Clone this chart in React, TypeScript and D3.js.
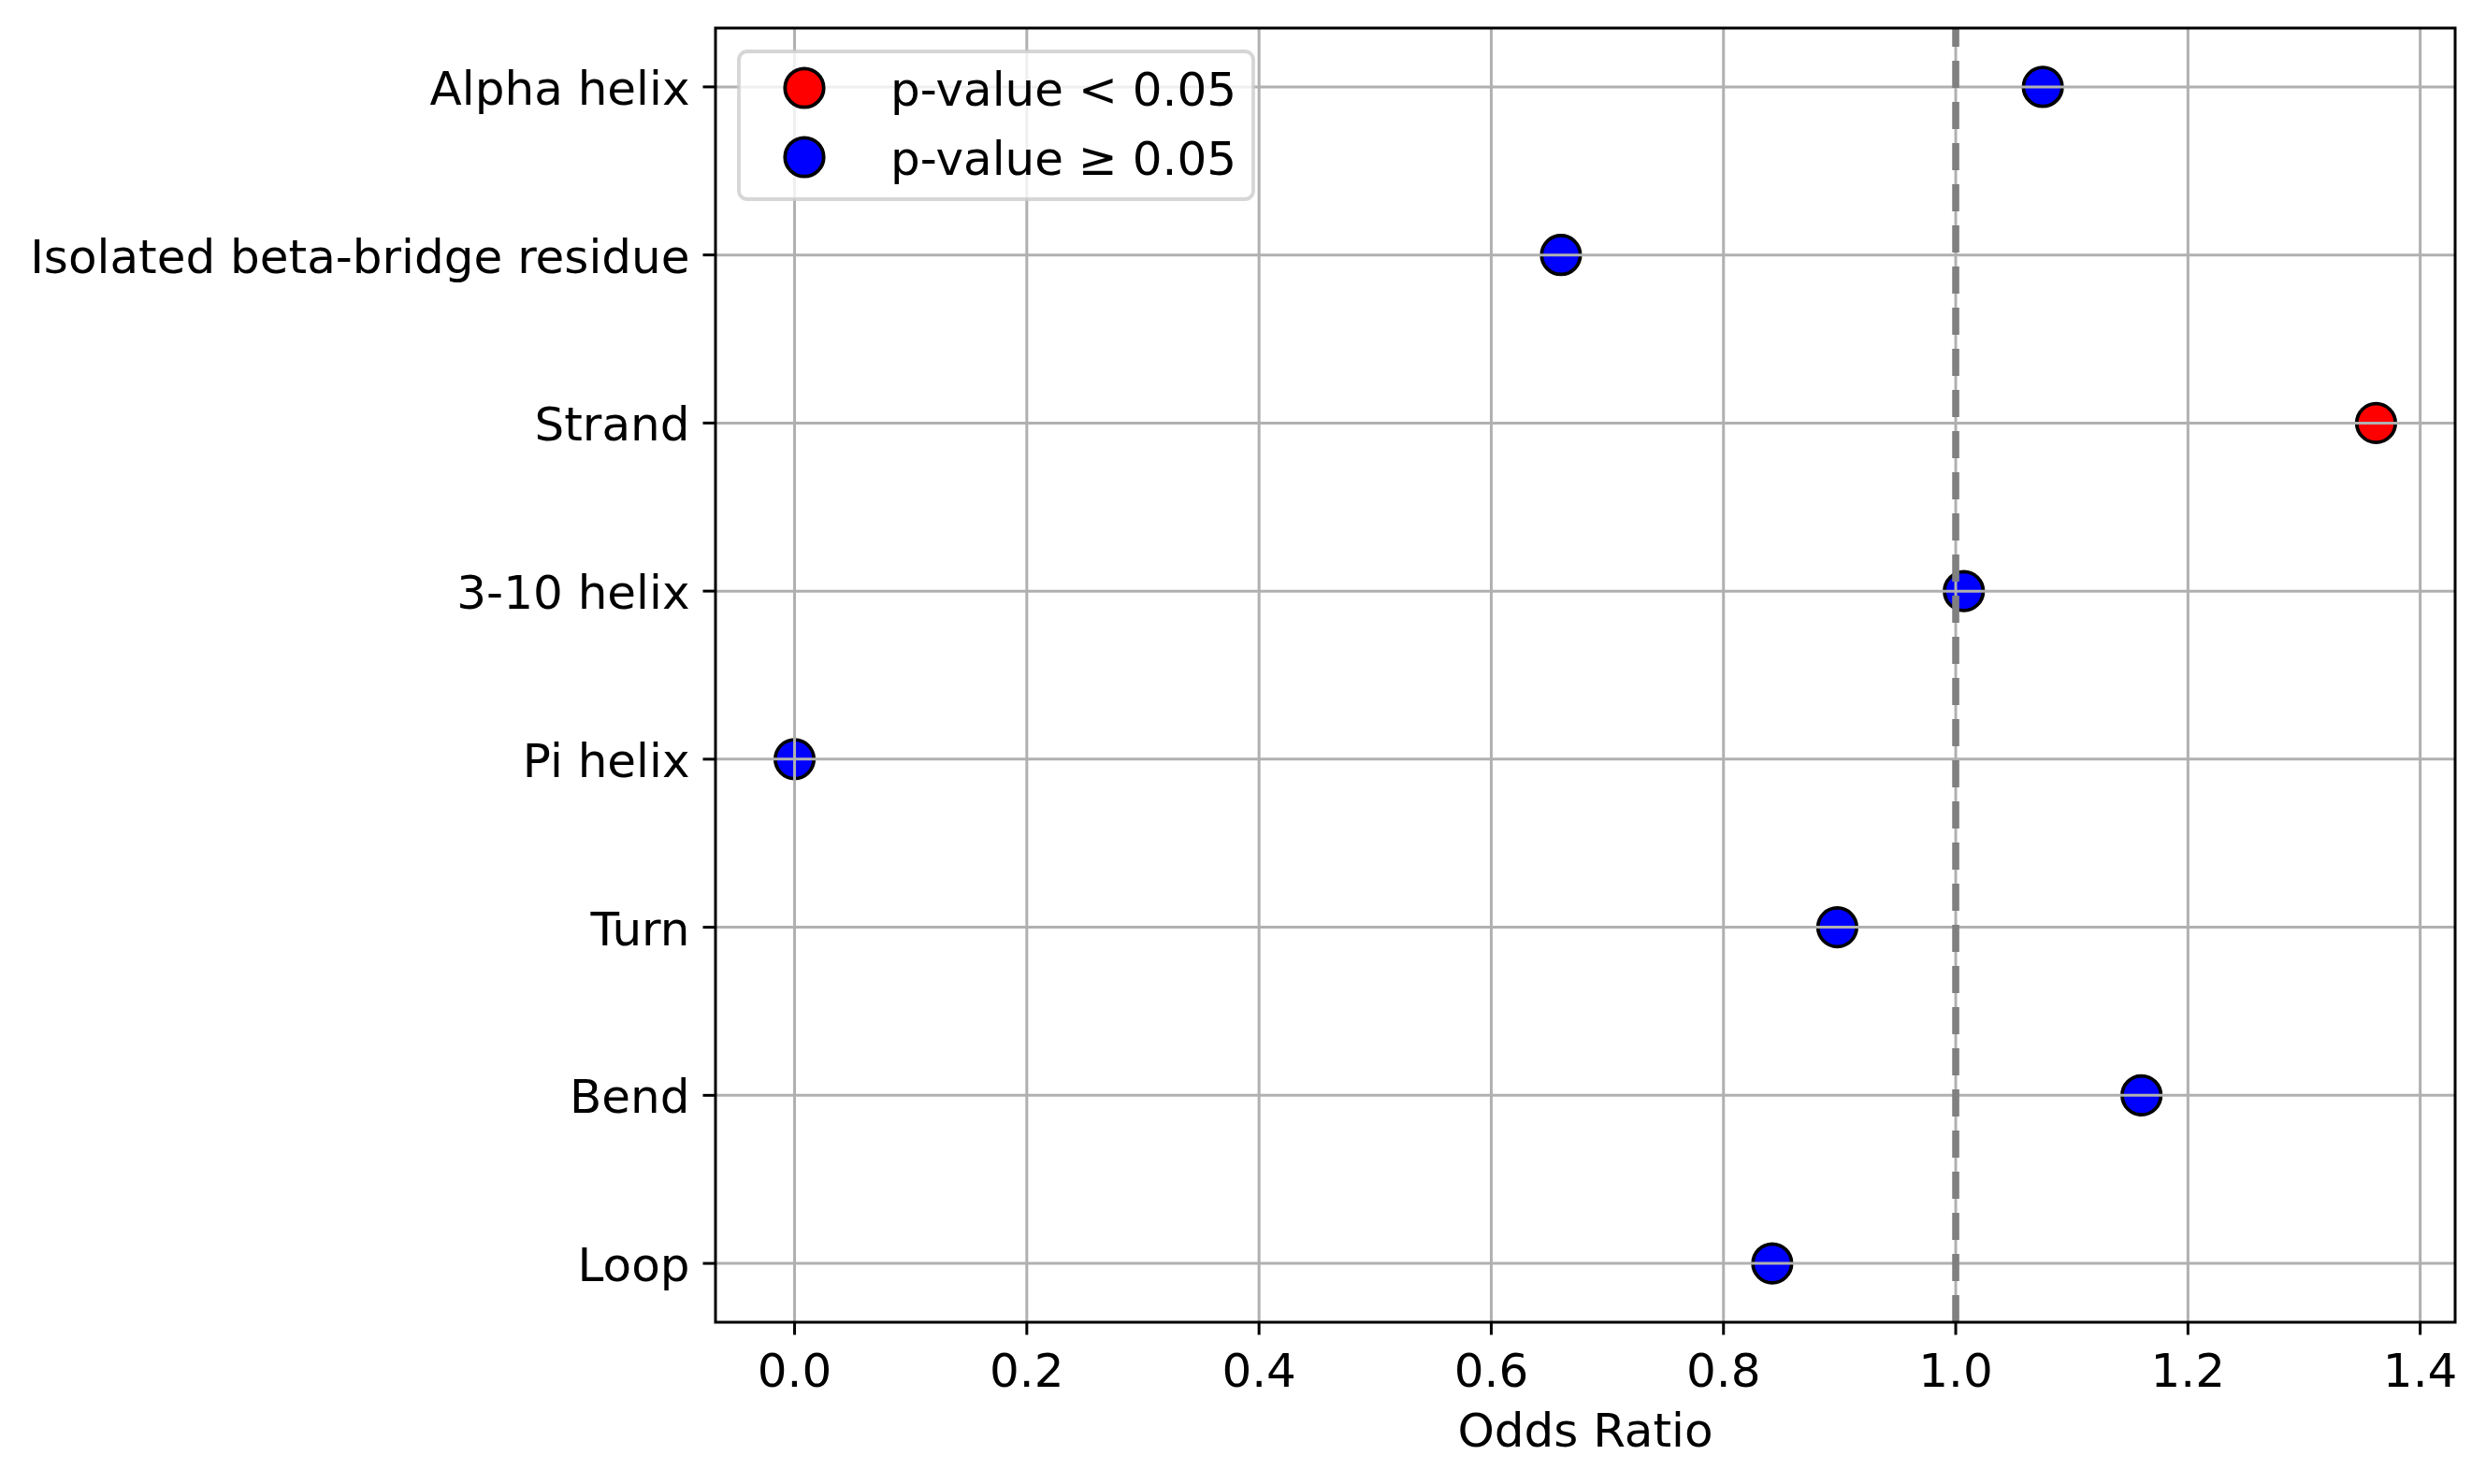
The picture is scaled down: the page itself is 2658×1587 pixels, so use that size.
import React from "react";
import * as d3 from "d3";

const categories = [
  "Alpha helix",
  "Isolated beta-bridge residue",
  "Strand",
  "3-10 helix",
  "Pi helix",
  "Turn",
  "Bend",
  "Loop",
];
const oddsRatios = [1.075, 0.66, 1.362, 1.007, 0.0, 0.898, 1.16, 0.842];
const significant = [false, false, true, false, false, false, false, false];
const xTicks = [0.0, 0.2, 0.4, 0.6, 0.8, 1.0, 1.2, 1.4];
const legendLabels = ["p-value < 0.05", "p-value \u2265 0.05"];
const legendColors = ["#ff0000", "#0000ff"];
const refLine = 1.0;

const W = 2658;
const H = 1587;
const L = 765;
const R = 2625;
const T = 30;
const B = 1414;
const FS = 50;
const FONT = "'DejaVu Sans', sans-serif";

export default function App() {
  const xMin = d3.min(oddsRatios) as number;
  const xMax = d3.max(oddsRatios) as number;
  const pad = (xMax - xMin) * 0.05;
  const x = d3.scaleLinear().domain([xMin - pad, xMax + pad]).range([L, R]);
  const n = categories.length;
  const y = d3.scaleLinear().domain([-0.35, n - 1 + 0.35]).range([T, B]);
  const grid = "#b0b0b0";
  const gw = 3;
  const tickLen = 13.5;
  const mr = 20.7;

  return (
    <svg
      width={W}
      height={H}
      style={{ position: "absolute", left: 0, top: 0, background: "#fff" }}
      fontFamily={FONT}
    >
      <rect x={0} y={0} width={W} height={H} fill="#fff" />
      {/* points (below grid, as matplotlib default) */}
      {categories.map((c, i) => (
        <circle
          key={c}
          cx={x(oddsRatios[i])}
          cy={y(i)}
          r={mr}
          fill={significant[i] ? legendColors[0] : legendColors[1]}
          stroke="#000"
          strokeWidth={3.8}
        />
      ))}
      {/* grid */}
      {xTicks.map((t) => (
        <line key={"gx" + t} x1={x(t)} x2={x(t)} y1={T} y2={B} stroke={grid} strokeWidth={gw} />
      ))}
      {categories.map((c, i) => (
        <line key={"gy" + c} x1={L} x2={R} y1={y(i)} y2={y(i)} stroke={grid} strokeWidth={gw} />
      ))}
      {/* reference line */}
      <line
        x1={x(refLine)}
        x2={x(refLine)}
        y1={B}
        y2={T}
        stroke="#808080"
        strokeWidth={7.6}
        strokeDasharray="29,15"
      />
      {/* spines */}
      <rect x={L} y={T} width={R - L} height={B - T} fill="none" stroke="#000" strokeWidth={3} />
      {/* x ticks */}
      {xTicks.map((t) => (
        <g key={"xt" + t}>
          <line x1={x(t)} x2={x(t)} y1={B} y2={B + tickLen} stroke="#000" strokeWidth={3} />
          <text x={x(t)} y={B + 69} textAnchor="middle" fontSize={FS} fill="#000">
            {t.toFixed(1)}
          </text>
        </g>
      ))}
      {/* y ticks */}
      {categories.map((c, i) => (
        <g key={"yt" + c}>
          <line x1={L - tickLen} x2={L} y1={y(i)} y2={y(i)} stroke="#000" strokeWidth={3} />
          <text x={L - tickLen - 14} y={y(i) + 19} textAnchor="end" fontSize={FS} fill="#000">
            {c}
          </text>
        </g>
      ))}
      {/* x label */}
      <text x={(L + R) / 2} y={1547} textAnchor="middle" fontSize={FS} fill="#000">
        Odds Ratio
      </text>
      {/* legend */}
      <g>
        <rect
          x={790}
          y={55}
          width={550}
          height={158}
          rx={9}
          ry={9}
          fill="#fff"
          fillOpacity={0.8}
          stroke="#cccccc"
          strokeOpacity={0.8}
          strokeWidth={3.8}
        />
        {legendLabels.map((lab, i) => (
          <g key={lab}>
            <circle
              cx={860}
              cy={94 + i * 74}
              r={mr}
              fill={legendColors[i]}
              stroke="#000"
              strokeWidth={3.8}
            />
            <text x={952} y={94 + i * 74 + 19} fontSize={FS} fill="#000">
              {lab}
            </text>
          </g>
        ))}
      </g>
    </svg>
  );
}
